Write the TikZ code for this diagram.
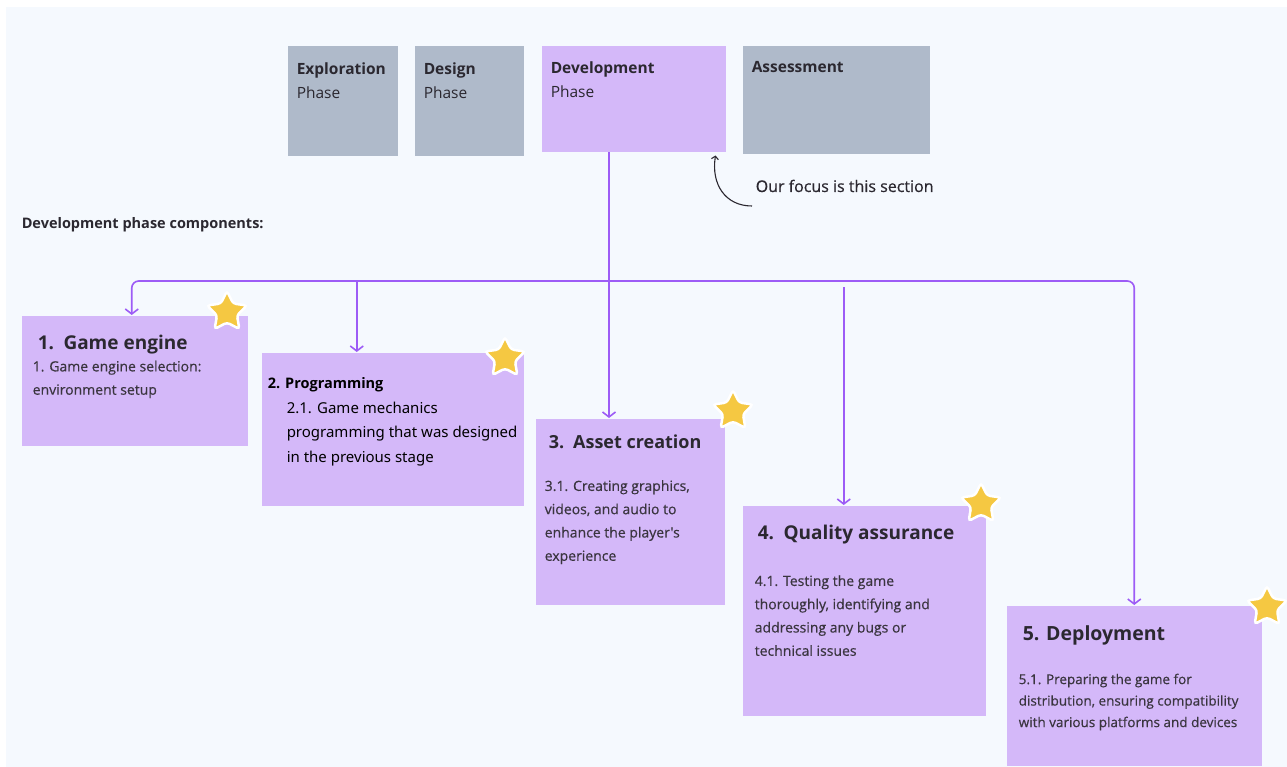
\documentclass[tikz,border=0pt]{standalone}
\usepackage{fontspec}
\setmainfont{Open Sans}
\newfontfamily\progfont{Noto Sans}
\newfontfamily\bodyfont{Open Sans}[FakeBold=0.5]
\usetikzlibrary{arrows.meta,shapes.geometric}
\definecolor{phasegray}{HTML}{AFBACA}
\definecolor{lavender}{HTML}{D4B8F9}
\definecolor{linkviolet}{HTML}{9D5CF6}
\definecolor{pagebg}{HTML}{F5F9FE}
\definecolor{inkdark}{HTML}{2B2830}
\definecolor{inkbody}{HTML}{3A353F}
\definecolor{staryellow}{HTML}{F5C842}
\tikzset{
every picture/.style={line width=1.5pt},
phase/.style={fill=phasegray, anchor=north west, inner sep=0pt},
card/.style={fill=lavender, anchor=north west, inner sep=0pt},
phasetext/.style={anchor=north west, align=left, inner sep=0pt, text=inkdark,
  font=\fontsize{15.5}{24}\selectfont},
cardtitle/.style={anchor=base west, inner sep=0pt, text=inkdark,
  font=\bfseries\fontsize{19}{22}\selectfont},
cardtext/.style={anchor=north west, align=left, inner sep=0pt, text=inkbody,
  font=\bodyfont\fontsize{14}{23.3}\selectfont},
link/.style={draw=linkviolet, line width=1.6pt, rounded corners=7pt,
  -{Straight Barb[length=5pt,width=13pt,line width=1.6pt]}},
badge/.style={star, star points=5, star point ratio=2.0, fill=staryellow,
  draw=white, line width=2.5pt, rounded corners=3pt, minimum size=42pt,
  inner sep=0pt}
}

\begin{document}
\begin{tikzpicture}[x=1pt,y=-1pt]
  \useasboundingbox (0,0) rectangle (1287,767);
  \fill[white] (0,0) rectangle (1287,767);
  \fill[pagebg] (6,7) rectangle (1287,767);

  % phases
  \node[phase, minimum width=110pt, minimum height=110pt] (explore) at (287,45) {};
  \node[phase, minimum width=109pt, minimum height=110pt] (design) at (414,45) {};
  \node[card, minimum width=184pt, minimum height=106pt] (dev) at (541,45) {};
  \node[phase, minimum width=187pt, minimum height=108pt] (assess) at (742,45) {};
  \node[phasetext] (exploretxt) at (296,62) {\textbf{Exploration}\\Phase};
  \node[phasetext] (designtxt) at (423,62) {\textbf{Design}\\Phase};
  \node[phasetext] (devtxt) at (550,61) {\textbf{Development}\\Phase};
  \node[phasetext] (assesstxt) at (751,61) {\textbf{Assessment}};

  \node[anchor=base west, inner sep=0pt, text=inkdark, font=\bodyfont\fontsize{16}{20}\selectfont]
    (focus) at (755,192) {Our focus is this section};
  \coordinate (focustail) at (752,206);
  \draw[inkdark, line width=1.1pt, -{Straight Barb[length=3pt,width=7pt,line width=1.1pt]}]
    (focustail) .. controls (725,206) and (711,184) .. ([xshift=-11pt,yshift=-3pt]dev.south east);

  \node[anchor=base west, inner sep=0pt, text=inkdark, font=\bfseries\fontsize{14.5}{18}\selectfont]
    (compo) at (21,229) {Development phase components:};

  % cards
  \node[card, minimum width=226pt, minimum height=130pt] (engine) at (21,315) {};
  \node[card, minimum width=262pt, minimum height=153pt] (program) at (261,352) {};
  \node[card, minimum width=189pt, minimum height=186pt] (asset) at (535,418) {};
  \node[card, minimum width=243pt, minimum height=210pt] (quality) at (742,505) {};
  \node[card, minimum width=255pt, minimum height=160pt] (deploy) at (1006,605) {};

  \node[cardtitle] (enginett) at (37,349) {1.\enspace Game engine};
  \node[cardtext] (enginetx) at (32,360) {1. Game engine selection:\\environment setup};

  \node[anchor=base west, inner sep=0pt, text=black, font=\bfseries\fontsize{14.5}{18}\selectfont]
    (programtt) at (267,388) {2. Programming};
  \node[cardtext, text=black, font=\progfont\fontsize{15}{24.5}\selectfont]
    (programtx) at (286,401) {2.1. Game mechanics\\programming that was designed\\in the previous stage};

  \node[cardtitle, font=\bfseries\fontsize{18}{22}\selectfont] (assettt) at (548,448) {3.\enspace Asset creation};
  \node[cardtext] (assettx) at (544,479.5) {3.1. Creating graphics,\\videos, and audio to\\enhance the player's\\experience};

  \node[cardtitle] (qualitytt) at (757,539) {4.\enspace Quality assurance};
  \node[cardtext] (qualitytx) at (754,574.5) {4.1. Testing the game\\thoroughly, identifying and\\addressing any bugs or\\technical issues};

  \node[cardtitle, font=\bfseries\fontsize{19.5}{22}\selectfont] (deploytt) at (1022,640) {5. Deployment};
  \node[cardtext, font=\bodyfont\fontsize{13.5}{21.5}\selectfont] (deploytx) at (1018,673) {5.1. Preparing the game for\\distribution, ensuring compatibility\\with various platforms and devices};

  % stars
  \node[badge] (star1) at (227,312) {};
  \node[badge] (star2) at (505,358) {};
  \node[badge] (star3) at (733,411) {};
  \node[badge] (star4) at (981,504) {};
  \node[badge] (star5) at (1267,607) {};

  % connectors
  \coordinate (trunk) at (609,281);
  \coordinate (qtop) at (609,287);
  \draw[link] (dev.south -| trunk) -- (asset.north -| trunk);
  \draw[link] (trunk) -| ([xshift=-3pt]engine.north);
  \draw[link] (trunk) -| (deploy.north);
  \draw[link] ([xshift=-36pt]program.north |- trunk) -- ([xshift=-36pt]program.north);
  \draw[link] ([xshift=-20.5pt]quality.north |- qtop) -- ([xshift=-20.5pt]quality.north);
\end{tikzpicture}
\end{document}
